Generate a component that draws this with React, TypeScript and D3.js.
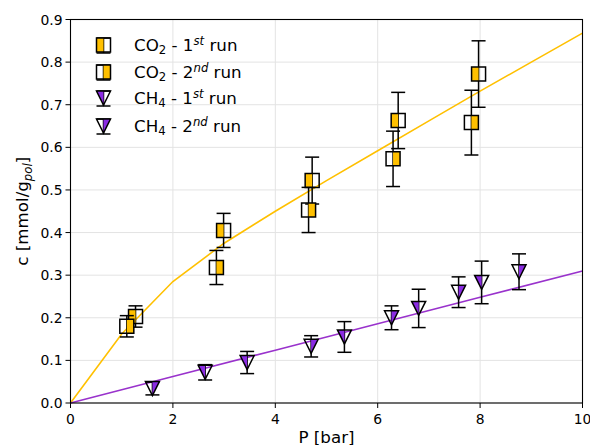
import React from "react";
import * as d3 from "d3";

// ---- data ----
const co2Run1P = [1.27, 2.99, 4.72, 6.4, 7.97];
const co2Run1C = [0.203, 0.405, 0.522, 0.663, 0.772];
const co2Run1Err = [0.025, 0.04, 0.055, 0.066, 0.078];

const co2Run2P = [1.1, 2.85, 4.65, 6.3, 7.83];
const co2Run2C = [0.18, 0.318, 0.453, 0.573, 0.658];
const co2Run2Err = [0.025, 0.04, 0.053, 0.065, 0.076];

const ch4Run1P = [2.63, 3.45, 5.35, 6.8, 8.03];
const ch4Run1C = [0.072, 0.095, 0.155, 0.222, 0.283];
const ch4Run1Err = [0.018, 0.026, 0.036, 0.045, 0.05];

const ch4Run2P = [1.6, 4.7, 6.27, 7.58, 8.76];
const ch4Run2C = [0.034, 0.133, 0.2, 0.26, 0.308];
const ch4Run2Err = [0.015, 0.025, 0.028, 0.036, 0.042];

const co2FitP = [0, 1, 2, 3, 4, 5, 6, 7, 8, 9, 10];
const co2FitC = [0, 0.162, 0.285, 0.375, 0.45, 0.522, 0.592, 0.662, 0.732, 0.8, 0.868];

const ch4FitP = [0, 2, 4, 6, 8, 10];
const ch4FitC = [0, 0.062, 0.124, 0.186, 0.248, 0.31];

const xTicks = [0, 2, 4, 6, 8, 10];
const yTicks = [0, 0.1, 0.2, 0.3, 0.4, 0.5, 0.6, 0.7, 0.8, 0.9];

const YELLOW = "#ffc000";
const PURPLE_FILL = "#8a2be2";
const PURPLE_LINE = "#9932cc";

const W = 590;
const H = 445;
const M = { left: 70.5, right: 582.5, top: 19.5, bottom: 403 };
const FONT = "DejaVu Sans, sans-serif";

const x = d3.scaleLinear().domain([0, 10]).range([M.left, M.right]);
const y = d3.scaleLinear().domain([0, 0.9]).range([M.bottom, M.top]);

const MS = 14; // marker size
const CAP = 7; // cap half width

type Shape = "square" | "tri";
type Side = "left" | "right";

function halfPath(shape: Shape, side: Side, cx: number, cy: number) {
  const h = MS / 2;
  if (shape === "square") {
    return side === "left"
      ? `M${cx - h},${cy - h}L${cx},${cy - h}L${cx},${cy + h}L${cx - h},${cy + h}Z`
      : `M${cx},${cy - h}L${cx + h},${cy - h}L${cx + h},${cy + h}L${cx},${cy + h}Z`;
  }
  return side === "left"
    ? `M${cx - h},${cy - h}L${cx},${cy - h}L${cx},${cy + h}Z`
    : `M${cx},${cy - h}L${cx + h},${cy - h}L${cx},${cy + h}Z`;
}

function outlinePath(shape: Shape, cx: number, cy: number) {
  const h = MS / 2;
  if (shape === "square") {
    return `M${cx - h},${cy - h}L${cx + h},${cy - h}L${cx + h},${cy + h}L${cx - h},${cy + h}Z`;
  }
  return `M${cx - h},${cy - h}L${cx + h},${cy - h}L${cx},${cy + h}Z`;
}

function Marker({ shape, side, fill, cx, cy }: { shape: Shape; side: Side; fill: string; cx: number; cy: number }) {
  return (
    <g>
      <path d={halfPath(shape, side, cx, cy)} fill={fill} stroke="none" />
      <path d={outlinePath(shape, cx, cy)} fill="none" stroke="#000" strokeWidth={1.5} strokeLinejoin="miter" />
    </g>
  );
}

function ErrorSeries({
  P,
  C,
  E,
  shape,
  side,
  fill,
}: {
  P: number[];
  C: number[];
  E: number[];
  shape: Shape;
  side: Side;
  fill: string;
}) {
  return (
    <g>
      {P.map((p, i) => {
        const cx = x(p);
        const y1 = y(C[i] + E[i]);
        const y2 = y(C[i] - E[i]);
        return (
          <g key={"e" + i} stroke="#000" strokeWidth={1.5}>
            <line x1={cx} x2={cx} y1={y1} y2={y2} />
            <line x1={cx - CAP} x2={cx + CAP} y1={y1} y2={y1} />
            <line x1={cx - CAP} x2={cx + CAP} y1={y2} y2={y2} />
          </g>
        );
      })}
      {P.map((p, i) => (
        <Marker key={"m" + i} shape={shape} side={side} fill={fill} cx={x(p)} cy={y(C[i])} />
      ))}
    </g>
  );
}

const line = d3
  .line<[number, number]>()
  .x((d) => x(d[0]))
  .y((d) => y(d[1]));

const legendItems: { shape: Shape; side: Side; fill: string; gas: "CO2" | "CH4"; run: "st" | "nd"; n: string }[] = [
  { shape: "square", side: "left", fill: YELLOW, gas: "CO2", run: "st", n: "1" },
  { shape: "square", side: "right", fill: YELLOW, gas: "CO2", run: "nd", n: "2" },
  { shape: "tri", side: "left", fill: PURPLE_FILL, gas: "CH4", run: "st", n: "1" },
  { shape: "tri", side: "right", fill: PURPLE_FILL, gas: "CH4", run: "nd", n: "2" },
];
const legendRows = [45, 72, 98, 126];

export default function App() {
  return (
    <svg
      width={W}
      height={H}
      style={{ position: "absolute", left: 0, top: 0, background: "#fff" }}
      fontFamily={FONT}
    >
      <rect x={0} y={0} width={W} height={H} fill="#fff" />
      {/* grid */}
      <g stroke="#e3e3e3" strokeWidth={1}>
        {xTicks.map((t) => (
          <line key={"gx" + t} x1={x(t)} x2={x(t)} y1={M.top} y2={M.bottom} />
        ))}
        {yTicks.map((t) => (
          <line key={"gy" + t} x1={M.left} x2={M.right} y1={y(t)} y2={y(t)} />
        ))}
      </g>

      {/* fit lines */}
      <path
        d={line(co2FitP.map((p, i) => [p, co2FitC[i]] as [number, number])) || ""}
        fill="none"
        stroke={YELLOW}
        strokeWidth={1.6}
      />
      <path
        d={line(ch4FitP.map((p, i) => [p, ch4FitC[i]] as [number, number])) || ""}
        fill="none"
        stroke={PURPLE_LINE}
        strokeWidth={1.6}
      />

      {/* data */}
      <ErrorSeries P={co2Run1P} C={co2Run1C} E={co2Run1Err} shape="square" side="left" fill={YELLOW} />
      <ErrorSeries P={co2Run2P} C={co2Run2C} E={co2Run2Err} shape="square" side="right" fill={YELLOW} />
      <ErrorSeries P={ch4Run1P} C={ch4Run1C} E={ch4Run1Err} shape="tri" side="left" fill={PURPLE_FILL} />
      <ErrorSeries P={ch4Run2P} C={ch4Run2C} E={ch4Run2Err} shape="tri" side="right" fill={PURPLE_FILL} />

      {/* spines */}
      <rect
        x={M.left}
        y={M.top}
        width={M.right - M.left}
        height={M.bottom - M.top}
        fill="none"
        stroke="#000"
        strokeWidth={1.1}
      />

      {/* ticks */}
      <g stroke="#000" strokeWidth={1}>
        {xTicks.map((t) => (
          <line key={"tx" + t} x1={x(t)} x2={x(t)} y1={M.bottom} y2={M.bottom + 5} />
        ))}
        {yTicks.map((t) => (
          <line key={"ty" + t} x1={M.left - 5} x2={M.left} y1={y(t)} y2={y(t)} />
        ))}
      </g>
      <g fontSize={13.9} fill="#000">
        {xTicks.map((t) => (
          <text key={"lx" + t} x={x(t)} y={M.bottom + 21} textAnchor="middle">
            {d3.format("d")(t)}
          </text>
        ))}
        {yTicks.map((t) => (
          <text key={"ly" + t} x={M.left - 8} y={y(t) + 5} textAnchor="end">
            {d3.format(".1f")(t)}
          </text>
        ))}
      </g>

      {/* axis labels */}
      <text x={(M.left + M.right) / 2} y={443} textAnchor="middle" fontSize={16.7}>
        P [bar]
      </text>
      <text transform={`translate(28,${(M.top + M.bottom) / 2}) rotate(-90)`} textAnchor="middle" fontSize={16.7}>
        c [mmol/g
        <tspan fontSize={11.7} fontStyle="italic" dy={4}>
          pol
        </tspan>
        <tspan dy={-4}>]</tspan>
      </text>

      {/* legend */}
      {legendItems.map((it, i) => {
        const cy = legendRows[i];
        const cx = 103.5;
        return (
          <g key={"lg" + i}>
            <g stroke="#000" strokeWidth={1.5}>
              <line x1={cx} x2={cx} y1={cy - 7} y2={cy + 8} />
              <line x1={cx - CAP} x2={cx + CAP} y1={cy - 7} y2={cy - 7} />
              <line x1={cx - CAP} x2={cx + CAP} y1={cy + 8} y2={cy + 8} />
            </g>
            <Marker shape={it.shape} side={it.side} fill={it.fill} cx={cx} cy={cy} />
            <text x={134} y={cy + 6} fontSize={16.7} fill="#000">
              {it.gas === "CO2" ? "CO" : "CH"}
              <tspan fontSize={11.7} dy={3}>
                {it.gas === "CO2" ? "2" : "4"}
              </tspan>
              <tspan dy={-3}>{" - " + it.n}</tspan>
              <tspan fontSize={11.7} fontStyle="italic" dy={-6}>
                {it.run}
              </tspan>
              <tspan dy={6}>{" run"}</tspan>
            </text>
          </g>
        );
      })}
    </svg>
  );
}
